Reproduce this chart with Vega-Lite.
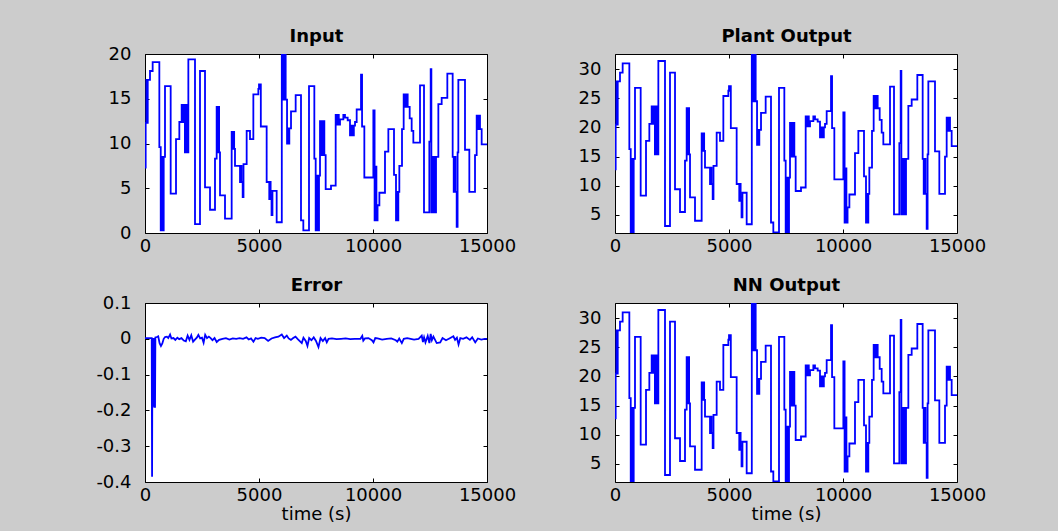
{
"$schema": "https://vega.github.io/schema/vega-lite/v6.json",
"background": "#cccccc",
"padding": {"left": 95, "top": 27, "right": 90, "bottom": 10},
"datasets": {
"sig": [
{"t":0,"u":7.3,"y":12.8},{"t":30,"u":12.3,"y":20.5},{"t":60,"u":17.1,"y":27.9},{"t":90,"u":12.3,"y":20.5},{"t":120,"u":17.1,"y":27.9},
{"t":219,"u":18.1,"y":29.4},{"t":336,"u":19.1,"y":31.0},{"t":629,"u":9.6,"y":16.3},{"t":690,"u":0.3,"y":2.0},{"t":735,"u":8.5,"y":14.6},
{"t":770,"u":0.3,"y":2.0},{"t":820,"u":8.5,"y":14.6},{"t":877,"u":16.4,"y":26.8},{"t":1126,"u":4.4,"y":8.3},{"t":1360,"u":10.5,"y":17.7},
{"t":1506,"u":12.4,"y":20.6},{"t":1608,"u":14.3,"y":23.6},{"t":1660,"u":12.4,"y":20.6},{"t":1700,"u":14.3,"y":23.6},{"t":1750,"u":9.0,"y":15.4},
{"t":1800,"u":14.3,"y":23.6},{"t":1850,"u":9.0,"y":15.4},{"t":1901,"u":19.4,"y":31.4},{"t":2193,"u":1.0,"y":3.1},{"t":2412,"u":18.1,"y":29.4},
{"t":2632,"u":5.1,"y":9.4},{"t":2851,"u":2.6,"y":5.5},{"t":3070,"u":8.3,"y":14.3},{"t":3143,"u":14.1,"y":23.3},{"t":3180,"u":9.0,"y":15.4},
{"t":3215,"u":14.1,"y":23.3},{"t":3250,"u":9.0,"y":15.4},{"t":3290,"u":4.2,"y":8.0},{"t":3509,"u":1.6,"y":4.0},{"t":3801,"u":11.3,"y":19.0},
{"t":3850,"u":9.4,"y":16.0},{"t":3880,"u":11.3,"y":19.0},{"t":3910,"u":9.4,"y":16.0},{"t":3947,"u":7.5,"y":13.1},{"t":4167,"u":5.7,"y":10.3},
{"t":4200,"u":7.5,"y":13.1},{"t":4235,"u":5.7,"y":10.3},{"t":4284,"u":4.0,"y":7.7},{"t":4320,"u":7.7,"y":13.4},{"t":4459,"u":11.4,"y":19.1},
{"t":4605,"u":10.5,"y":17.7},{"t":4752,"u":15.5,"y":25.4},{"t":4971,"u":16.1,"y":26.3},{"t":5000,"u":16.6,"y":27.1},{"t":5020,"u":16.1,"y":26.3},
{"t":5044,"u":16.6,"y":27.1},{"t":5080,"u":11.9,"y":19.9},{"t":5336,"u":5.7,"y":10.3},{"t":5450,"u":3.8,"y":7.4},{"t":5480,"u":5.7,"y":10.3},
{"t":5510,"u":3.8,"y":7.4},{"t":5550,"u":2.0,"y":4.6},{"t":5590,"u":4.7,"y":8.8},{"t":5775,"u":1.2,"y":3.4},{"t":6000,"u":20.0,"y":32.6},
{"t":6040,"u":14.9,"y":24.5},{"t":6070,"u":20.0,"y":32.6},{"t":6110,"u":14.9,"y":24.5},{"t":6140,"u":20.0,"y":32.6},{"t":6170,"u":14.9,"y":24.5},
{"t":6230,"u":10.0,"y":17.0},{"t":6260,"u":11.7,"y":19.6},{"t":6290,"u":10.0,"y":17.0},{"t":6330,"u":11.7,"y":19.6},{"t":6404,"u":13.6,"y":22.5},
{"t":6608,"u":15.4,"y":25.3},{"t":6842,"u":1.4,"y":3.7},{"t":6944,"u":0.3,"y":2.0},{"t":7193,"u":16.4,"y":26.8},{"t":7427,"u":8.3,"y":14.3},
{"t":7486,"u":0.3,"y":2.0},{"t":7530,"u":6.4,"y":11.4},{"t":7570,"u":0.3,"y":2.0},{"t":7632,"u":6.4,"y":11.4},{"t":7676,"u":12.5,"y":20.8},
{"t":7720,"u":8.7,"y":15.0},{"t":7760,"u":12.5,"y":20.8},{"t":7800,"u":8.7,"y":15.0},{"t":7840,"u":12.5,"y":20.8},{"t":7866,"u":8.7,"y":15.0},
{"t":7924,"u":4.9,"y":9.1},{"t":8158,"u":5.3,"y":9.7},{"t":8363,"u":13.2,"y":21.9},{"t":8410,"u":12.1,"y":20.2},{"t":8450,"u":13.2,"y":21.9},
{"t":8500,"u":12.1,"y":20.2},{"t":8553,"u":12.7,"y":21.1},{"t":8699,"u":13.2,"y":21.9},{"t":8772,"u":12.9,"y":21.4},{"t":8889,"u":12.6,"y":21.0},
{"t":8991,"u":10.9,"y":18.3},{"t":9060,"u":12.0,"y":20.0},{"t":9110,"u":10.9,"y":18.3},{"t":9160,"u":12.0,"y":20.0},{"t":9211,"u":12.4,"y":20.6},
{"t":9284,"u":13.8,"y":22.8},{"t":9474,"u":17.7,"y":28.8},{"t":9520,"u":11.9,"y":19.9},{"t":9620,"u":6.2,"y":11.1},{"t":10015,"u":13.7,"y":22.6},
{"t":10070,"u":1.4,"y":3.7},{"t":10110,"u":7.4,"y":13.0},{"t":10150,"u":1.4,"y":3.7},{"t":10200,"u":3.1,"y":6.3},{"t":10280,"u":4.5,"y":8.5},
{"t":10526,"u":9.1,"y":15.6},{"t":10673,"u":11.6,"y":19.4},{"t":10921,"u":6.5,"y":11.6},{"t":11009,"u":1.4,"y":3.7},{"t":11050,"u":4.6,"y":8.6},
{"t":11080,"u":1.4,"y":3.7},{"t":11111,"u":4.6,"y":8.6},{"t":11155,"u":7.5,"y":13.1},{"t":11272,"u":11.6,"y":19.4},{"t":11345,"u":15.5,"y":25.4},
{"t":11400,"u":14.1,"y":23.3},{"t":11450,"u":15.5,"y":25.4},{"t":11521,"u":14.1,"y":23.3},{"t":11609,"u":12.8,"y":21.3},{"t":11696,"u":11.4,"y":19.1},
{"t":11769,"u":10.1,"y":17.1},{"t":12062,"u":16.5,"y":27.0},{"t":12237,"u":2.3,"y":5.1},{"t":12471,"u":10.2,"y":17.3},{"t":12530,"u":18.3,"y":29.7},
{"t":12560,"u":2.3,"y":5.1},{"t":12600,"u":8.5,"y":14.6},{"t":12650,"u":2.3,"y":5.1},{"t":12700,"u":8.5,"y":14.6},{"t":12740,"u":2.3,"y":5.1},
{"t":12764,"u":8.5,"y":14.6},{"t":12866,"u":14.4,"y":23.7},{"t":13012,"u":15.1,"y":24.8},{"t":13260,"u":17.8,"y":29.0},{"t":13494,"u":8.5,"y":14.6},
{"t":13540,"u":4.6,"y":8.6},{"t":13580,"u":8.5,"y":14.6},{"t":13620,"u":4.6,"y":8.6},{"t":13670,"u":0.7,"y":2.6},{"t":13710,"u":9.0,"y":15.4},
{"t":13743,"u":17.1,"y":27.9},{"t":14035,"u":9.3,"y":15.9},{"t":14225,"u":4.6,"y":8.6},{"t":14474,"u":8.7,"y":15.0},{"t":14547,"u":13.1,"y":21.7},
{"t":14600,"u":11.6,"y":19.4},{"t":14640,"u":13.1,"y":21.7},{"t":14693,"u":11.6,"y":19.4},{"t":14766,"u":9.9,"y":16.8},{"t":15000,"u":9.9,"y":16.8}
],
"err": [
{"t":0,"e":0.002},{"t":200,"e":0.002},{"t":295,"e":0.002},{"t":310,"e":-0.385},{"t":325,"e":0.0},{"t":345,"e":-0.19},{"t":360,"e":0.002},
{"t":378,"e":-0.19},{"t":395,"e":0.002},{"t":410,"e":-0.19},{"t":440,"e":-0.19},{"t":455,"e":0.004},{"t":520,"e":0.005},{"t":580,"e":0.007},
{"t":640,"e":-0.012},{"t":700,"e":-0.02},{"t":760,"e":-0.013},{"t":820,"e":0.0},{"t":880,"e":0.005},{"t":960,"e":0.006},{"t":1020,"e":0.002},
{"t":1100,"e":0.012},{"t":1160,"e":0.001},{"t":1250,"e":0.002},{"t":1330,"e":-0.003},{"t":1420,"e":0.003},{"t":1500,"e":-0.001},{"t":1600,"e":0.002},
{"t":1700,"e":-0.005},{"t":1790,"e":-0.007},{"t":1870,"e":0.009},{"t":1950,"e":-0.003},{"t":2030,"e":0.01},{"t":2110,"e":-0.008},{"t":2180,"e":-0.003},
{"t":2280,"e":0.004},{"t":2340,"e":0.011},{"t":2420,"e":0.001},{"t":2500,"e":0.003},{"t":2570,"e":-0.011},{"t":2640,"e":0.011},{"t":2720,"e":0.002},
{"t":2800,"e":0.006},{"t":2880,"e":0.002},{"t":2960,"e":-0.004},{"t":3050,"e":0.002},{"t":3145,"e":-0.009},{"t":3250,"e":-0.003},{"t":3400,"e":0.0},
{"t":3550,"e":0.002},{"t":3700,"e":-0.002},{"t":3850,"e":0.001},{"t":4000,"e":0.0},{"t":4150,"e":0.002},{"t":4300,"e":0.0},{"t":4450,"e":0.004},
{"t":4550,"e":-0.002},{"t":4650,"e":0.001},{"t":4755,"e":-0.008},{"t":4850,"e":0.002},{"t":4950,"e":0.0},{"t":5100,"e":0.003},{"t":5250,"e":0.002},
{"t":5400,"e":-0.006},{"t":5550,"e":0.001},{"t":5700,"e":0.004},{"t":5850,"e":0.006},{"t":5998,"e":0.012},{"t":6100,"e":0.002},{"t":6218,"e":0.009},
{"t":6300,"e":0.001},{"t":6400,"e":-0.003},{"t":6500,"e":0.002},{"t":6600,"e":0.006},{"t":6700,"e":-0.001},{"t":6876,"e":-0.012},{"t":6950,"e":0.003},
{"t":7050,"e":-0.006},{"t":7125,"e":-0.02},{"t":7200,"e":0.002},{"t":7300,"e":-0.004},{"t":7400,"e":0.004},{"t":7500,"e":-0.006},{"t":7608,"e":-0.023},
{"t":7700,"e":0.002},{"t":7800,"e":-0.006},{"t":7900,"e":0.002},{"t":7973,"e":-0.01},{"t":8050,"e":0.0},{"t":8200,"e":0.001},{"t":8400,"e":-0.001},
{"t":8600,"e":0.0},{"t":8800,"e":0.001},{"t":9000,"e":-0.001},{"t":9200,"e":0.0},{"t":9450,"e":0.0},{"t":9530,"e":0.008},{"t":9575,"e":-0.005},
{"t":9650,"e":0.001},{"t":9800,"e":0.002},{"t":9950,"e":-0.004},{"t":10021,"e":-0.01},{"t":10100,"e":0.002},{"t":10200,"e":0.001},{"t":10400,"e":-0.002},
{"t":10600,"e":0.0},{"t":10800,"e":0.001},{"t":11000,"e":-0.004},{"t":11068,"e":-0.008},{"t":11150,"e":0.001},{"t":11265,"e":-0.012},{"t":11350,"e":0.0},
{"t":11500,"e":0.002},{"t":11650,"e":0.0},{"t":11800,"e":-0.002},{"t":12000,"e":0.0},{"t":12137,"e":0.009},{"t":12190,"e":-0.009},{"t":12240,"e":0.004},
{"t":12300,"e":-0.01},{"t":12400,"e":0.008},{"t":12474,"e":-0.012},{"t":12530,"e":0.014},{"t":12582,"e":-0.004},{"t":12650,"e":0.006},{"t":12794,"e":-0.012},
{"t":12948,"e":-0.01},{"t":13050,"e":0.002},{"t":13200,"e":-0.004},{"t":13350,"e":0.001},{"t":13525,"e":0.007},{"t":13600,"e":-0.003},{"t":13680,"e":0.003},
{"t":13752,"e":-0.016},{"t":13830,"e":0.002},{"t":13950,"e":0.0},{"t":14100,"e":0.004},{"t":14250,"e":-0.003},{"t":14350,"e":0.004},{"t":14484,"e":-0.01},
{"t":14600,"e":0.001},{"t":14750,"e":-0.002},{"t":14900,"e":0.0},{"t":15000,"e":0.0}
]
},
"config": {
  "view": {"stroke": "black", "strokeWidth": 1, "fill": "white"},
  "font": "DejaVu Sans",
  "axis": {"grid": false, "domain": false, "tickColor": "black", "tickSize": -4, "labelColor": "black", "labelFont": "DejaVu Sans", "labelFontSize": 18, "labelFlush": false, "titleFont": "DejaVu Sans", "titleFontSize": 18, "titleFontWeight": "normal", "titleColor": "black"},
  "axisX": {"labelPadding": 8, "format": "d"},
  "axisY": {"labelPadding": 18},
  "line": {"color": "#0000ff", "strokeWidth": 1.8}
},
"columns": 2,
"spacing": {"row": 70, "column": 128},
"bounds": "flush",
"concat": [
  {
    "width": 342, "height": 179, "data": {"name": "sig"},
    "layer": [
      {"mark": {"type": "line", "interpolate": "step-after", "clip": true},
       "encoding": {"x": {"field": "t", "type": "quantitative", "scale": {"domain": [0, 15000], "nice": false}, "axis": {"values": [0, 5000, 10000, 15000], "title": null}},
                    "y": {"field": "u", "type": "quantitative", "scale": {"domain": [0, 20], "nice": false, "zero": false}, "axis": {"values": [0, 5, 10, 15, 20], "title": null}}}},
      {"mark": {"type": "line", "opacity": 0},
       "encoding": {"x": {"field": "t", "type": "quantitative", "axis": {"orient": "top", "labels": false, "values": [0, 5000, 10000, 15000], "title": "Input", "titleFontWeight": "bold", "titlePadding": 12, "titleBaseline": "alphabetic"}},
                    "y": {"field": "u", "type": "quantitative", "axis": {"orient": "right", "labels": false, "values": [0, 5, 10, 15, 20], "title": null}}}}
    ],
    "resolve": {"axis": {"x": "independent", "y": "independent"}}
  },
  {
    "width": 342, "height": 179, "data": {"name": "sig"},
    "layer": [
      {"mark": {"type": "line", "interpolate": "step-after", "clip": true},
       "encoding": {"x": {"field": "t", "type": "quantitative", "scale": {"domain": [0, 15000], "nice": false}, "axis": {"values": [0, 5000, 10000, 15000], "title": null}},
                    "y": {"field": "y", "type": "quantitative", "scale": {"domain": [1.9, 32.6], "nice": false, "zero": false}, "axis": {"values": [5, 10, 15, 20, 25, 30], "title": null}}}},
      {"mark": {"type": "line", "opacity": 0},
       "encoding": {"x": {"field": "t", "type": "quantitative", "axis": {"orient": "top", "labels": false, "values": [0, 5000, 10000, 15000], "title": "Plant Output", "titleFontWeight": "bold", "titlePadding": 12, "titleBaseline": "alphabetic"}},
                    "y": {"field": "y", "type": "quantitative", "axis": {"orient": "right", "labels": false, "values": [5, 10, 15, 20, 25, 30], "title": null}}}}
    ],
    "resolve": {"axis": {"x": "independent", "y": "independent"}}
  },
  {
    "width": 342, "height": 179, "data": {"name": "err"},
    "layer": [
      {"mark": {"type": "line", "clip": true},
       "encoding": {"x": {"field": "t", "type": "quantitative", "scale": {"domain": [0, 15000], "nice": false}, "axis": {"values": [0, 5000, 10000, 15000], "title": "time (s)", "titlePadding": 1}},
                    "y": {"field": "e", "type": "quantitative", "scale": {"domain": [-0.4, 0.1], "nice": false, "zero": false}, "axis": {"values": [-0.4, -0.3, -0.2, -0.1, 0, 0.1], "title": null, "labelExpr": "datum.value == 0 ? '0' : (datum.value < 0 ? '-' : '') + format(abs(datum.value), '.1f')"}}}},
      {"mark": {"type": "line", "opacity": 0},
       "encoding": {"x": {"field": "t", "type": "quantitative", "axis": {"orient": "top", "labels": false, "values": [0, 5000, 10000, 15000], "title": "Error", "titleFontWeight": "bold", "titlePadding": 12, "titleBaseline": "alphabetic"}},
                    "y": {"field": "e", "type": "quantitative", "axis": {"orient": "right", "labels": false, "values": [-0.4, -0.3, -0.2, -0.1, 0, 0.1], "title": null}}}}
    ],
    "resolve": {"axis": {"x": "independent", "y": "independent"}}
  },
  {
    "width": 342, "height": 179, "data": {"name": "sig"},
    "layer": [
      {"mark": {"type": "line", "interpolate": "step-after", "clip": true},
       "encoding": {"x": {"field": "t", "type": "quantitative", "scale": {"domain": [0, 15000], "nice": false}, "axis": {"values": [0, 5000, 10000, 15000], "title": "time (s)", "titlePadding": 1}},
                    "y": {"field": "y", "type": "quantitative", "scale": {"domain": [1.9, 32.6], "nice": false, "zero": false}, "axis": {"values": [5, 10, 15, 20, 25, 30], "title": null}}}},
      {"mark": {"type": "line", "opacity": 0},
       "encoding": {"x": {"field": "t", "type": "quantitative", "axis": {"orient": "top", "labels": false, "values": [0, 5000, 10000, 15000], "title": "NN Output", "titleFontWeight": "bold", "titlePadding": 12, "titleBaseline": "alphabetic"}},
                    "y": {"field": "y", "type": "quantitative", "axis": {"orient": "right", "labels": false, "values": [5, 10, 15, 20, 25, 30], "title": null}}}}
    ],
    "resolve": {"axis": {"x": "independent", "y": "independent"}}
  }
]
}
